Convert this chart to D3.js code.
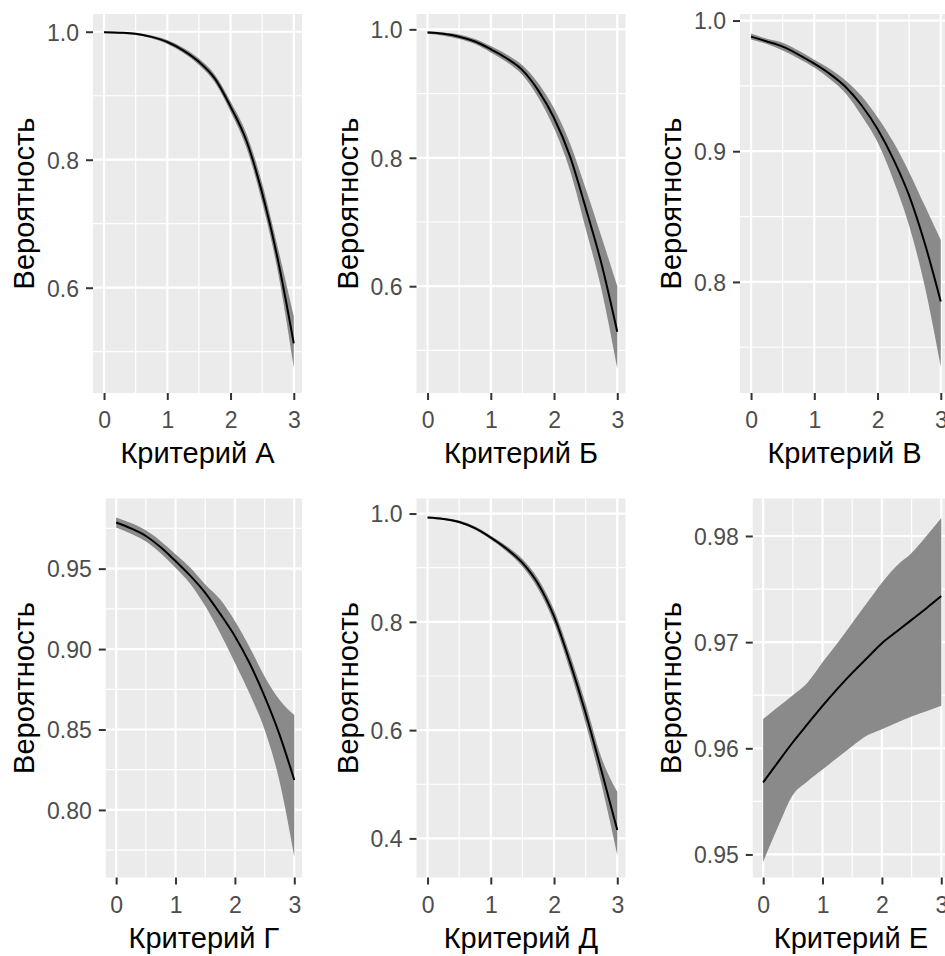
<!DOCTYPE html>
<html>
<head>
<meta charset="utf-8">
<script src="https://cdn.jsdelivr.net/npm/d3@7"></script>
<style>
  body { margin: 0; background: #fff; }
  svg { display: block; font-family: "Liberation Sans", Arial, sans-serif; }
</style>
</head>
<body>
<div id="chart"></div>
<script>
// x grid shared by every panel
const xValues = [0, 0.25, 0.5, 0.75, 1, 1.25, 1.5, 1.75, 2, 2.25, 2.5, 2.75, 3];
const xTicks = [0, 1, 2, 3];
const xMinor = [0.5, 1.5, 2.5];
const xDomain = [-0.175, 3.13];

const axisTitles = ["Критерий А", "Критерий Б", "Критерий В", "Критерий Г", "Критерий Д", "Критерий Е"];
const yTitle = "Вероятность";

// Критерий А
const meanA  = [0.999, 0.9985, 0.997, 0.992, 0.984, 0.971, 0.953, 0.927, 0.883, 0.830, 0.748, 0.643, 0.513];
const lowerA = [0.998, 0.997, 0.995, 0.990, 0.981, 0.967, 0.948, 0.921, 0.875, 0.819, 0.733, 0.624, 0.475];
const upperA = [1.000, 0.9995, 0.998, 0.994, 0.987, 0.975, 0.958, 0.933, 0.891, 0.841, 0.763, 0.662, 0.555];
const yDomainA = [0.4355, 1.0277];
const yTicksA = [0.6, 0.8, 1.0];

// Критерий Б
const meanB  = [0.995, 0.993, 0.9885, 0.981, 0.969, 0.955, 0.9365, 0.905, 0.862, 0.803, 0.722, 0.635, 0.529];
const lowerB = [0.993, 0.990, 0.985, 0.977, 0.964, 0.949, 0.929, 0.894, 0.846, 0.781, 0.690, 0.595, 0.472];
const upperB = [0.997, 0.995, 0.992, 0.985, 0.974, 0.961, 0.944, 0.916, 0.877, 0.823, 0.752, 0.677, 0.600];
const yDomainB = [0.4337, 1.0239];
const yTicksB = [0.6, 0.8, 1.0];

// Критерий В
const meanC  = [0.9877, 0.984, 0.980, 0.974, 0.967, 0.959, 0.949, 0.935, 0.917, 0.894, 0.866, 0.829, 0.785];
const lowerC = [0.9855, 0.982, 0.977, 0.971, 0.964, 0.955, 0.944, 0.927, 0.907, 0.878, 0.843, 0.796, 0.735];
const upperC = [0.990, 0.986, 0.983, 0.977, 0.970, 0.963, 0.954, 0.942, 0.926, 0.907, 0.884, 0.858, 0.832];
const yDomainC = [0.715, 1.005];
const yTicksC = [0.8, 0.9, 1.0];

// Критерий Г
const meanD  = [0.9787, 0.9750, 0.9703, 0.9633, 0.9547, 0.9455, 0.935, 0.922, 0.908, 0.891, 0.8706, 0.847, 0.8186];
const lowerD = [0.9756, 0.9717, 0.9668, 0.9595, 0.9506, 0.9405, 0.9267, 0.910, 0.8915, 0.872, 0.850, 0.818, 0.771];
const upperD = [0.9818, 0.9783, 0.9738, 0.9671, 0.959, 0.9505, 0.9402, 0.931, 0.9175, 0.901, 0.883, 0.8685, 0.859];
const yDomainD = [0.758, 0.9936];
const yTicksD = [0.80, 0.85, 0.90, 0.95];

// Критерий Д
const meanE  = [0.9926, 0.990, 0.9845, 0.973, 0.9556, 0.935, 0.909, 0.870, 0.810, 0.726, 0.631, 0.525, 0.4154];
const lowerE = [0.991, 0.988, 0.982, 0.970, 0.952, 0.930, 0.902, 0.860, 0.798, 0.711, 0.612, 0.500, 0.369];
const upperE = [0.994, 0.992, 0.987, 0.976, 0.959, 0.940, 0.916, 0.879, 0.822, 0.741, 0.649, 0.549, 0.486];
const yDomainE = [0.3278, 1.0278];
const yTicksE = [0.4, 0.6, 0.8, 1.0];

// Критерий Е
const meanF  = [0.95679, 0.9587, 0.96057, 0.9623, 0.9640, 0.9656, 0.9671, 0.9685, 0.9699, 0.9710, 0.9721, 0.9732, 0.97434];
const lowerF = [0.9493, 0.9526, 0.9556, 0.9569, 0.9580, 0.9591, 0.9602, 0.9612, 0.9618, 0.9624, 0.9630, 0.9635, 0.9640];
const upperF = [0.96277, 0.9639, 0.9650, 0.9662, 0.9681, 0.9699, 0.9718, 0.9737, 0.9756, 0.9772, 0.9784, 0.9800, 0.9817];
const yDomainF = [0.94783, 0.98353];
const yTicksF = [0.95, 0.96, 0.97, 0.98];

const panels = [
    { title: axisTitles[0], mean: meanA, lower: lowerA, upper: upperA, domain: yDomainA, ticks: yTicksA, digits: 1 },
    { title: axisTitles[1], mean: meanB, lower: lowerB, upper: upperB, domain: yDomainB, ticks: yTicksB, digits: 1 },
    { title: axisTitles[2], mean: meanC, lower: lowerC, upper: upperC, domain: yDomainC, ticks: yTicksC, digits: 1 },
    { title: axisTitles[3], mean: meanD, lower: lowerD, upper: upperD, domain: yDomainD, ticks: yTicksD, digits: 2 },
    { title: axisTitles[4], mean: meanE, lower: lowerE, upper: upperE, domain: yDomainE, ticks: yTicksE, digits: 1 },
    { title: axisTitles[5], mean: meanF, lower: lowerF, upper: upperF, domain: yDomainF, ticks: yTicksF, digits: 2 }
];

const width = 945;
const height = 956;
const panelW = 323.5;
const panelH = 484.5;
const tickFont = 23;
const titleFont = 29;

const svg = d3.select('#chart')
    .append('svg')
    .attr('width', width)
    .attr('height', height);

// scratch text to measure tick label widths (ggplot shifts the panel by label width)
const measure = svg.append('text')
    .attr('font-size', tickFont)
    .attr('visibility', 'hidden');
const textWidth = s => { measure.text(s); return measure.node().getComputedTextLength(); };

panels.forEach((p, i) => {
    const px = (i % 3) * panelW;
    const py = Math.floor(i / 3) * panelH;
    const fmt = d3.format('.' + p.digits + 'f');

    const labelW = d3.max(p.ticks, t => textWidth(fmt(t)));
    const left = px + 61 + labelW;
    const right = px + 302;
    const top = py + 14;
    const bottom = py + 393;

    const x = d3.scaleLinear().domain(xDomain).range([left, right]);
    const y = d3.scaleLinear().domain(p.domain).range([bottom, top]);

    const g = svg.append('g').attr('class', 'panel');

    // panel background
    g.append('rect')
        .attr('x', left)
        .attr('y', top)
        .attr('width', right - left)
        .attr('height', bottom - top)
        .attr('fill', '#EBEBEB');

    // minor gridlines at midpoints between major ticks
    const step = p.ticks[1] - p.ticks[0];
    const yMinor = [p.ticks[0] - step / 2].concat(p.ticks.map(t => t + step / 2))
        .filter(v => v > p.domain[0] && v < p.domain[1]);

    g.selectAll('.minor-y')
        .data(yMinor)
        .enter()
        .append('line')
        .attr('x1', left).attr('x2', right)
        .attr('y1', d => y(d)).attr('y2', d => y(d))
        .attr('stroke', '#fff')
        .attr('stroke-width', 1.2);

    g.selectAll('.minor-x')
        .data(xMinor)
        .enter()
        .append('line')
        .attr('x1', d => x(d)).attr('x2', d => x(d))
        .attr('y1', top).attr('y2', bottom)
        .attr('stroke', '#fff')
        .attr('stroke-width', 1.2);

    g.selectAll('.major-y')
        .data(p.ticks)
        .enter()
        .append('line')
        .attr('x1', left).attr('x2', right)
        .attr('y1', d => y(d)).attr('y2', d => y(d))
        .attr('stroke', '#fff')
        .attr('stroke-width', 2.2);

    g.selectAll('.major-x')
        .data(xTicks)
        .enter()
        .append('line')
        .attr('x1', d => x(d)).attr('x2', d => x(d))
        .attr('y1', top).attr('y2', bottom)
        .attr('stroke', '#fff')
        .attr('stroke-width', 2.2);

    const rows = xValues.map((xv, k) => ({ x: xv, mean: p.mean[k], lower: p.lower[k], upper: p.upper[k] }));

    // confidence ribbon
    g.append('path')
        .datum(rows)
        .attr('fill', '#8A8A8A')
        .attr('d', d3.area()
            .curve(d3.curveMonotoneX)
            .x(d => x(d.x))
            .y0(d => y(d.lower))
            .y1(d => y(d.upper)));

    // fitted line
    g.append('path')
        .datum(rows)
        .attr('fill', 'none')
        .attr('stroke', '#000')
        .attr('stroke-width', 2)
        .attr('d', d3.line()
            .curve(d3.curveMonotoneX)
            .x(d => x(d.x))
            .y(d => y(d.mean)));

    // axes
    const xAxis = g.append('g')
        .attr('transform', `translate(0, ${bottom})`)
        .call(d3.axisBottom(x).tickValues(xTicks).tickFormat(d3.format('d')).tickSize(7).tickPadding(12));

    const yAxis = g.append('g')
        .attr('transform', `translate(${left}, 0)`)
        .call(d3.axisLeft(y).tickValues(p.ticks).tickFormat(fmt).tickSize(7).tickPadding(7));

    [xAxis, yAxis].forEach(ax => {
        ax.select('.domain').remove();
        ax.selectAll('.tick line').attr('stroke', '#333333').attr('stroke-width', 2);
        ax.selectAll('.tick text')
            .attr('fill', '#4D4D4D')
            .attr('font-size', tickFont)
            .attr('font-family', '"Liberation Sans", Arial, sans-serif');
    });
    yAxis.selectAll('.tick text').attr('dy', '0.36em');

    // axis titles
    g.append('text')
        .attr('x', (left + right) / 2)
        .attr('y', bottom + 70)
        .attr('text-anchor', 'middle')
        .attr('font-size', titleFont)
        .attr('fill', '#000')
        .text(p.title);

    g.append('text')
        .attr('transform', `translate(${px + 34}, ${(top + bottom) / 2}) rotate(-90)`)
        .attr('text-anchor', 'middle')
        .attr('font-size', titleFont)
        .attr('fill', '#000')
        .text(yTitle);
});

measure.remove();
</script>
</body>
</html>
